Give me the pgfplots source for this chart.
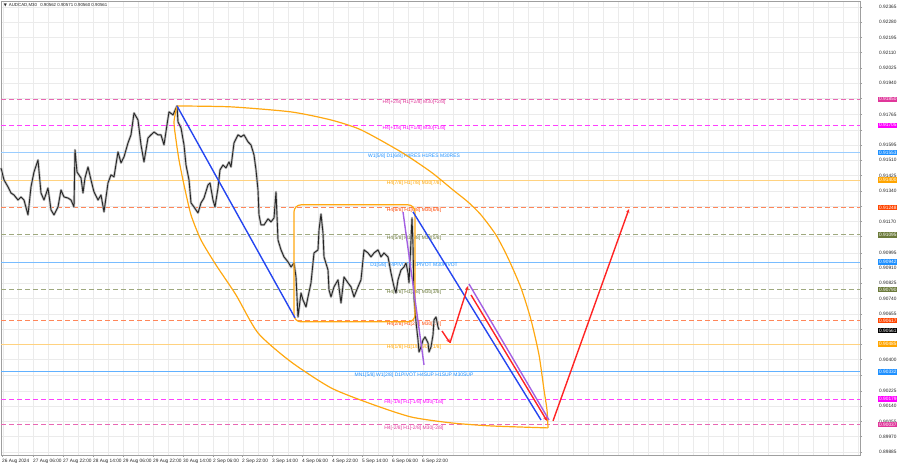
\documentclass[border=0pt]{standalone}
\usepackage{fontspec}
\setmainfont{Liberation Sans}
\newfontfamily\dejavu{DejaVu Sans}
\usepackage{pgfplots}
\pgfplotsset{compat=1.18}
\usetikzlibrary{arrows.meta}

\definecolor{lvpink}{HTML}{E0369A}
\definecolor{lvmag}{HTML}{FF00FF}
\definecolor{lvblue}{HTML}{1E90FF}
\definecolor{lvorange}{HTML}{FFA500}
\definecolor{lvred}{HTML}{FF4500}
\definecolor{lvolive}{HTML}{6B7A3A}
\definecolor{trblue}{HTML}{2646F0}
\definecolor{trpurple}{HTML}{A35FE2}
\definecolor{trred}{HTML}{FF2424}
\definecolor{arcorange}{HTML}{FFA811}

\newcommand{\lbl}{\fontsize{5}{6}\selectfont}
\newcommand{\tck}{\fontsize{4.8}{6}\selectfont}

% level line: price, colour, tint of the line, line style, text on the line
\newcommand{\lvl}[5]{%
  \addplot[color=#2!#3, line width=1bp, #4] coordinates {(0,#1) (859,#1)};
  \node[text=#2, font=\lbl, anchor=north, inner sep=0.6bp] at (axis cs:413,#1) {#5};
}
% price box on the right scale
\newcommand{\pbox}[3]{%
  \node[fill=#2, text=#3, font=\tck, anchor=west, inner xsep=1bp, inner ysep=1.1bp] at (axis cs:877,#1) {#1};
}

\begin{document}
\begin{tikzpicture}
\useasboundingbox (0,0) rectangle (900bp,468bp);
\begin{axis}[
  at={(1bp,13bp)}, anchor=south west,
  width=859bp, height=454bp, scale only axis,
  xmin=0, xmax=859, ymin=0.89868, ymax=0.92398,
  clip=false,
  axis line style={gray!75, line width=0.5bp},
  tick align=outside, major tick length=2bp, minor tick length=0pt,
  tick style={gray!75, line width=0.4bp},
  xtick pos=bottom, ytick pos=right, yticklabel pos=right,
  xtick={1,32,62,92,122,152,182,212,241,271,301,331,361,391,421},
  xticklabels={26 Aug 2024,27 Aug 06:00,27 Aug 22:00,28 Aug 14:00,29 Aug 06:00,29 Aug 22:00,30 Aug 14:00,2 Sep 06:00,2 Sep 22:00,3 Sep 14:00,4 Sep 06:00,4 Sep 22:00,5 Sep 14:00,6 Sep 06:00,6 Sep 22:00},
  xticklabel style={anchor=north west, font=\tck, inner sep=0pt, yshift=-1.5bp, text=black!85},
  minor xtick={2,17,...,857},
  xminorgrids, ymajorgrids,
  minor grid style={gray!16, line width=0.4bp},
  major grid style={gray!16, line width=0.4bp},
  scaled y ticks=false,
  ytick={0.92365,0.92280,0.92195,0.92110,0.92025,0.91940,0.91855,0.91765,0.91680,0.91595,0.91510,0.91425,0.91340,0.91255,0.91170,0.91085,0.90995,0.90910,0.90825,0.90740,0.90655,0.90570,0.90485,0.90400,0.90315,0.90225,0.90140,0.90055,0.89970,0.89885},
  yticklabels={0.92365,0.92280,0.92195,0.92110,0.92025,0.91940,,0.91765,,0.91595,0.91510,0.91425,0.91340,,0.91170,,0.90995,0.90910,0.90825,0.90740,0.90655,,,0.90400,,0.90225,0.90140,0.90055,0.89970,0.89885},
  yticklabel style={anchor=west, font=\tck, inner sep=0pt, xshift=17bp, text=black!85},
]

% Murrey levels
\lvl{0.91850}{lvpink}{75}{dash pattern=on 5bp off 3bp}{H4[+2/8] H1[+2/8] M30[+2/8]}
\lvl{0.91705}{lvmag}{75}{dash pattern=on 5bp off 3bp}{H4[+1/8] H1[+1/8] M30[+1/8]}
\lvl{0.91553}{lvblue}{45}{solid}{W1[5/8] D1[6/8] H4RES H1RES M30RES}
\lvl{0.91400}{lvorange}{50}{solid}{H4[7/8] H1[7/8] M30[7/8]}
\lvl{0.91248}{lvred}{65}{dash pattern=on 5bp off 3bp}{H4[6/8] H1[6/8] M30[6/8]}
\lvl{0.91095}{lvolive}{65}{dash pattern=on 5bp off 3bp}{H4[5/8] H1[5/8] M30[5/8]}
\lvl{0.90942}{lvblue}{60}{solid}{D1[5/8] H4PIVOT H1PIVOT M30PIVOT}
\lvl{0.90790}{lvolive}{65}{dash pattern=on 5bp off 3bp}{H4[3/8] H1[3/8] M30[3/8]}
\lvl{0.90617}{lvred}{65}{dash pattern=on 5bp off 3bp}{H4[2/8] H1[2/8] M30[2/8]}
\lvl{0.90485}{lvorange}{50}{solid}{H4[1/8] H1[1/8] M30[1/8]}
\lvl{0.90332}{lvblue}{70}{solid}{MN1[5/8] W1[2/8] D1PIVOT H4SUP H1SUP M30SUP}
\lvl{0.90179}{lvmag}{75}{dash pattern=on 5bp off 3bp}{H4[-1/8] H1[-1/8] M30[-1/8]}
\lvl{0.90037}{lvpink}{75}{dash pattern=on 5bp off 3bp}{H4[-2/8] H1[-2/8] M30[-2/8]}

% price (AUDCAD M30)
\addplot[gray!50, line width=2.4bp, line join=round] coordinates {
(0,0.91468) (3,0.91401) (7,0.91362) (10,0.91328) (13,0.91317) (17,0.91289) (20,0.91306) (23,0.91289) (27,0.91206) (30,0.91362) (33,0.91445) (37,0.91512) (40,0.91328) (43,0.91289) (47,0.91356) (50,0.91234) (53,0.91206) (57,0.91250) (60,0.91345) (63,0.91306) (67,0.91300) (70,0.91289) (73,0.91250) (74,0.91568) (76,0.91445) (80,0.91412) (82,0.91328) (84,0.91412) (87,0.91473) (90,0.91401) (93,0.91334) (97,0.91289) (100,0.91317) (103,0.91223) (107,0.91384) (110,0.91429) (113,0.91418) (117,0.91557) (120,0.91496) (123,0.91529) (127,0.91607) (130,0.91652) (133,0.91774) (137,0.91735) (140,0.91596) (143,0.91501) (147,0.91635) (150,0.91652) (153,0.91668) (157,0.91652) (160,0.91652) (163,0.91596) (166,0.91708) (168,0.91780) (172,0.91763) (176,0.91813) (177,0.91724) (180,0.91691) (183,0.91596) (185,0.91484) (188,0.91401) (190,0.91273) (193,0.91250) (197,0.91217) (200,0.91273) (203,0.91300) (207,0.91373) (209,0.91384) (212,0.91289) (214,0.91250) (217,0.91356) (219,0.91457) (222,0.91484) (225,0.91468) (228,0.91501) (230,0.91473) (233,0.91607) (237,0.91652) (240,0.91641) (243,0.91652) (247,0.91613) (250,0.91596) (253,0.91540) (255,0.91457) (257,0.91345) (258,0.91206) (260,0.91150) (263,0.91150) (267,0.91184) (270,0.91167) (273,0.91189) (275,0.91334) (277,0.91066) (280,0.91011) (283,0.90972) (287,0.90944) (290,0.90916) (293,0.90938) (295,0.90860) (297,0.90637) (300,0.90771) (302,0.90732) (305,0.90693) (307,0.90749) (310,0.90827) (313,0.90994) (317,0.91011) (318,0.91122) (320,0.91211) (322,0.91105) (323,0.90972) (327,0.90899) (328,0.90788) (330,0.90749) (333,0.90805) (337,0.90844) (340,0.90715) (343,0.90860) (347,0.90827) (350,0.90805) (353,0.90749) (357,0.90805) (360,0.90844) (363,0.91011) (367,0.90994) (370,0.90972) (373,0.90994) (377,0.91011) (380,0.90972) (383,0.90994) (387,0.90972) (390,0.90883) (393,0.90805) (395,0.90771) (397,0.90844) (400,0.90899) (403,0.90916) (405,0.90938) (407,0.90883) (408,0.90827) (410,0.91066) (411,0.91189) (412,0.91038) (413,0.90749) (415,0.90610) (417,0.90509) (418,0.90442) (420,0.90470) (422,0.90509) (424,0.90526) (427,0.90493) (428,0.90442) (430,0.90470) (432,0.90537) (433,0.90621) (435,0.90637) (437,0.90582) (438,0.90566)};
\addplot[black!85, line width=0.9bp, line join=round] coordinates {
(0,0.91468) (3,0.91401) (7,0.91362) (10,0.91328) (13,0.91317) (17,0.91289) (20,0.91306) (23,0.91289) (27,0.91206) (30,0.91362) (33,0.91445) (37,0.91512) (40,0.91328) (43,0.91289) (47,0.91356) (50,0.91234) (53,0.91206) (57,0.91250) (60,0.91345) (63,0.91306) (67,0.91300) (70,0.91289) (73,0.91250) (74,0.91568) (76,0.91445) (80,0.91412) (82,0.91328) (84,0.91412) (87,0.91473) (90,0.91401) (93,0.91334) (97,0.91289) (100,0.91317) (103,0.91223) (107,0.91384) (110,0.91429) (113,0.91418) (117,0.91557) (120,0.91496) (123,0.91529) (127,0.91607) (130,0.91652) (133,0.91774) (137,0.91735) (140,0.91596) (143,0.91501) (147,0.91635) (150,0.91652) (153,0.91668) (157,0.91652) (160,0.91652) (163,0.91596) (166,0.91708) (168,0.91780) (172,0.91763) (176,0.91813) (177,0.91724) (180,0.91691) (183,0.91596) (185,0.91484) (188,0.91401) (190,0.91273) (193,0.91250) (197,0.91217) (200,0.91273) (203,0.91300) (207,0.91373) (209,0.91384) (212,0.91289) (214,0.91250) (217,0.91356) (219,0.91457) (222,0.91484) (225,0.91468) (228,0.91501) (230,0.91473) (233,0.91607) (237,0.91652) (240,0.91641) (243,0.91652) (247,0.91613) (250,0.91596) (253,0.91540) (255,0.91457) (257,0.91345) (258,0.91206) (260,0.91150) (263,0.91150) (267,0.91184) (270,0.91167) (273,0.91189) (275,0.91334) (277,0.91066) (280,0.91011) (283,0.90972) (287,0.90944) (290,0.90916) (293,0.90938) (295,0.90860) (297,0.90637) (300,0.90771) (302,0.90732) (305,0.90693) (307,0.90749) (310,0.90827) (313,0.90994) (317,0.91011) (318,0.91122) (320,0.91211) (322,0.91105) (323,0.90972) (327,0.90899) (328,0.90788) (330,0.90749) (333,0.90805) (337,0.90844) (340,0.90715) (343,0.90860) (347,0.90827) (350,0.90805) (353,0.90749) (357,0.90805) (360,0.90844) (363,0.91011) (367,0.90994) (370,0.90972) (373,0.90994) (377,0.91011) (380,0.90972) (383,0.90994) (387,0.90972) (390,0.90883) (393,0.90805) (395,0.90771) (397,0.90844) (400,0.90899) (403,0.90916) (405,0.90938) (407,0.90883) (408,0.90827) (410,0.91066) (411,0.91189) (412,0.91038) (413,0.90749) (415,0.90610) (417,0.90509) (418,0.90442) (420,0.90470) (422,0.90509) (424,0.90526) (427,0.90493) (428,0.90442) (430,0.90470) (432,0.90537) (433,0.90621) (435,0.90637) (437,0.90582) (438,0.90566)};

% orange ellipse arcs and box
\addplot[arcorange, line width=1.2bp, smooth, tension=0.4] coordinates {
(176,0.91813) (230,0.91808) (290,0.91780) (330,0.91735) (360,0.91680) (400,0.91557) (430,0.91445) (452,0.91345) (467,0.91278) (480,0.91206) (495,0.91094) (507,0.90966) (520,0.90799) (530,0.90621) (538,0.90426) (543,0.90231) (546,0.90119) (547,0.90019)};
\addplot[arcorange, line width=1.2bp, smooth, tension=0.4] coordinates {
(176,0.91813) (173,0.91724) (175,0.91624) (178,0.91512) (183,0.91373) (190,0.91206) (200,0.91066) (215,0.90927) (235,0.90760) (257,0.90548) (290,0.90387) (330,0.90242) (370,0.90153) (410,0.90080) (450,0.90047) (490,0.90030) (547,0.90019)};
\addplot[arcorange, line width=1.2bp, rounded corners=7bp] coordinates {
(350,0.91262) (414,0.91262) (414,0.90610) (293,0.90610) (293,0.91262) (350,0.91262)};

% trend lines
\addplot[trblue, line width=1.4bp] coordinates {(176,0.91813) (294,0.90632)};
\addplot[trblue, line width=1.4bp] coordinates {(412,0.91223) (540,0.90063)};
\addplot[trpurple, line width=1.4bp] coordinates {(402,0.91223) (423,0.90370)};
\addplot[trpurple, line width=1.4bp] coordinates {(468,0.90821) (548,0.90063)};

% forecast arrows
\addplot[trred, line width=1.4bp, -{Stealth[length=4bp,width=3.5bp]}] coordinates {(441,0.90559) (449,0.90493)};
\addplot[trred, line width=1.4bp, -{Stealth[length=4bp,width=3.5bp]}] coordinates {(449,0.90493) (467,0.90810)};
\addplot[trred, line width=1.4bp, -{Stealth[length=4bp,width=3.5bp]}] coordinates {(470,0.90760) (546,0.90058)};
\addplot[trred, line width=1.4bp, -{Stealth[length=4bp,width=3.5bp]}] coordinates {(552,0.90058) (628,0.91239)};

% price boxes on the scale
\pbox{0.91850}{lvpink}{white}
\pbox{0.91705}{lvmag}{white}
\pbox{0.91553}{lvblue}{white}
\pbox{0.91400}{lvorange}{white}
\pbox{0.91248}{lvred}{white}
\pbox{0.91095}{lvolive}{white}
\pbox{0.90942}{lvblue}{white}
\pbox{0.90790}{lvolive}{white}
\pbox{0.90617}{lvred}{white}
\pbox{0.90561}{black}{white}
\pbox{0.90485}{lvorange}{white}
\pbox{0.90332}{lvblue}{white}
\pbox{0.90179}{lvmag}{white}
\pbox{0.90037}{lvpink}{white}

\node[anchor=west, font=\fontsize{4.4}{5}\selectfont, inner sep=0pt, text=black!85] at (axis description cs:0.003,0.991)
  {{\dejavu\fontsize{4}{5}\selectfont ▼}\hspace{2bp}AUDCAD,M30\hspace{2bp} 0.90562 0.90571 0.90560 0.90561};
\end{axis}
\end{tikzpicture}
\end{document}
